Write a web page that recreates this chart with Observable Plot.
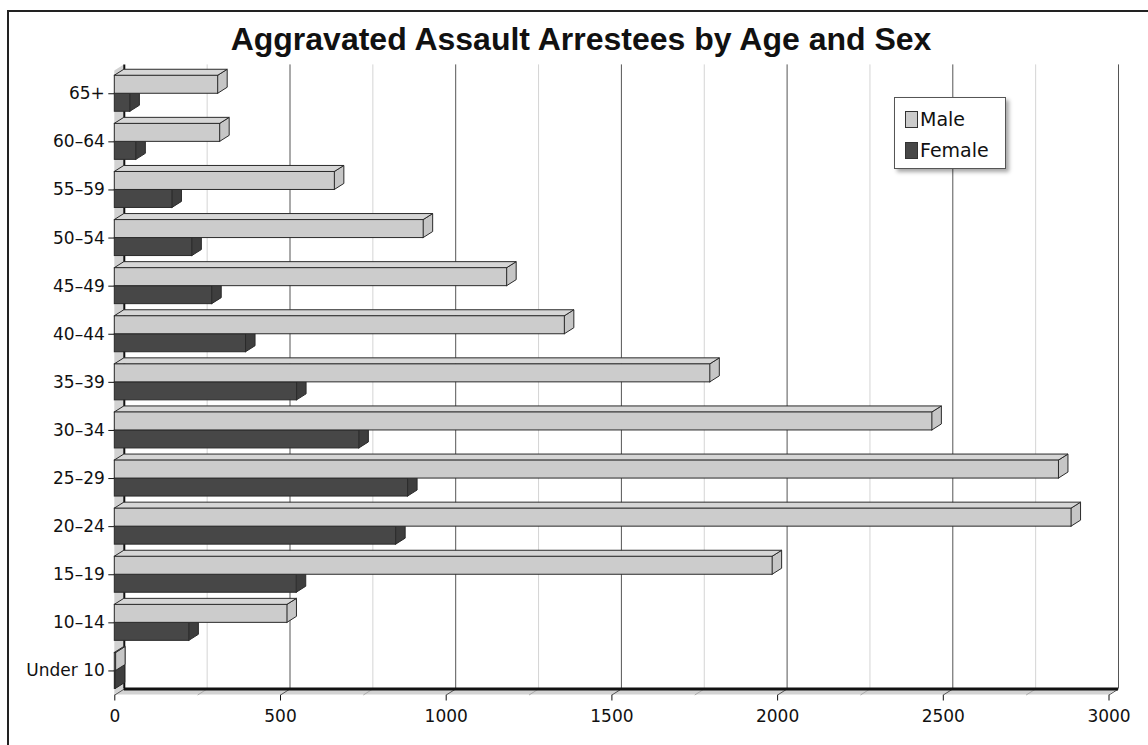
<!DOCTYPE html>
<html>
<head>
<meta charset="utf-8">
<script src="https://cdn.jsdelivr.net/npm/d3@7"></script>
<script src="https://cdn.jsdelivr.net/npm/@observablehq/plot@0.6"></script>
<style>
  html, body { margin: 0; padding: 0; background: #fff; }
  #wrap { position: relative; width: 1148px; height: 745px; overflow: hidden; background: #fff; }
  #frame { position: absolute; left: 7px; top: 10px; width: 1300px; height: 900px;
           border-left: 2.5px solid #222; border-top: 2.5px solid #222; }
  #title { position: absolute; left: 14px; width: 1134px; top: 23px; text-align: center;
           font: bold 32px/32px "Liberation Sans", Arial, Helvetica, sans-serif; color: #111; white-space: nowrap; }
  #chart { position: absolute; left: 0; top: 60px; }
  #legend { position: absolute; left: 894px; top: 97px; width: 112px; height: 72px; background: #fff;
            border: 1px solid #555; box-shadow: 3px 3px 4px rgba(0,0,0,0.35); box-sizing: border-box; }
  .sw { position: absolute; width: 13px; height: 17px; box-sizing: border-box; border: 1px solid #333; }
  .lt { position: absolute; font: 19px/19px "DejaVu Sans", sans-serif; color: #111; white-space: nowrap; }
</style>
</head>
<body>
<div id="wrap">
  <div id="frame"></div>
  <div id="title">Aggravated Assault Arrestees by Age and Sex</div>
  <div id="chart"></div>
  <div id="legend">
    <div class="sw" style="left:10px;top:13px;background:#cccccc"></div>
    <div class="lt" style="left:25px;top:12px">Male</div>
    <div class="sw" style="left:10px;top:44px;background:#474747"></div>
    <div class="lt" style="left:25px;top:43px">Female</div>
  </div>
</div>
<script>
// ---- data ----
const ages = ["65+", "60–64", "55–59", "50–54", "45–49", "40–44", "35–39", "30–34", "25–29", "20–24", "15–19", "10–14", "Under 10"];
const male = [312, 318, 664, 932, 1184, 1358, 1797, 2467, 2849, 2887, 1985, 521, 4];
const female = [47, 65, 174, 234, 294, 396, 550, 738, 885, 849, 549, 225, 3];
const xTicks = [0, 500, 1000, 1500, 2000, 2500, 3000];
const minorTicks = [250, 750, 1250, 1750, 2250, 2750];
const xDomain = [0, 3000];

// ---- layout ----
const W = 1148, H = 685, mL = 114.3, mR = 39.5, mT = 4.4, mB = 50.5;
const yTop = -0.6, yBottom = 12.5;
const barH = 0.374, depthY = 0.125, depthPx = 9.5;
const pxPerUnit = (W - mL - mR) / (xDomain[1] - xDomain[0]);
const depthX = depthPx / pxPerUnit;
const yFloor = yBottom - depthY;

const bars = ages.flatMap((a, i) => [
  {age: a, sex: "Male", v: male[i], top: i - barH, bot: i},
  {age: a, sex: "Female", v: female[i], top: i, bot: i + barH}
]);
const fem = bars.filter(b => b.sex === "Female");
const mal = bars.filter(b => b.sex === "Male");
const sideRows = bs => bs.flatMap(b => [
  {k: b.age, x: b.v, y1: b.bot, y2: b.top},
  {k: b.age, x: b.v + depthX, y1: b.bot - depthY, y2: b.top - depthY}
]);
const topRows = bs => bs.flatMap(b => [
  {k: b.age, y: b.top, x1: 0, x2: b.v},
  {k: b.age, y: b.top - depthY, x1: depthX, x2: b.v + depthX}
]);
const floorRows = [
  {y: yBottom, x1: xDomain[0], x2: xDomain[1]},
  {y: yFloor, x1: xDomain[0] + depthX, x2: xDomain[1] + depthX}
];
const wallRows = [
  {x: xDomain[0], y1: yBottom, y2: yTop + depthY},
  {x: xDomain[0] + depthX, y1: yFloor, y2: yTop}
];
const allTicks = [...xTicks, ...minorTicks];

const stroke = "#2a2a2a";
function barMarks(bs, front, topC, sideC) {
  return [
    Plot.areaY(sideRows(bs), {x: "x", y1: "y1", y2: "y2", z: "k", fill: sideC, stroke, strokeWidth: 1}),
    Plot.areaX(topRows(bs), {y: "y", x1: "x1", x2: "x2", z: "k", fill: topC, stroke, strokeWidth: 1}),
    Plot.rect(bs, {x1: 0, x2: "v", y1: "top", y2: "bot", fill: front, stroke, strokeWidth: 1})
  ];
}

const chart = Plot.plot({
  width: W, height: H,
  marginLeft: mL, marginRight: mR, marginTop: mT, marginBottom: mB,
  style: {fontFamily: "'DejaVu Sans', sans-serif", fontSize: "17px", background: "transparent", overflow: "visible", color: "#111"},
  x: {domain: xDomain, ticks: xTicks, tickFormat: d => String(d), tickSize: 6, tickPadding: 9, label: null},
  y: {domain: [yTop, yBottom], reverse: true, ticks: d3.range(ages.length), tickFormat: i => ages[i],
      tickSize: 6, tickPadding: 4, label: null},
  marks: [
    Plot.areaY(wallRows, {x: "x", y1: "y1", y2: "y2", fill: "#d2d2d2"}),
    Plot.ruleX(minorTicks, {x: d => d, y1: yTop, y2: yFloor, dx: depthPx, stroke: "#d4d4d4", strokeWidth: 1}),
    Plot.ruleX(xTicks.filter(d => d > 0), {x: d => d, y1: yTop, y2: yFloor, dx: depthPx, stroke: "#555", strokeWidth: 1}),
    Plot.areaX(floorRows, {y: "y", x1: "x1", x2: "x2", fill: "#d2d2d2"}),
    Plot.link(allTicks, {x1: d => d, x2: d => d + depthX, y1: yBottom, y2: yFloor,
      stroke: d => xTicks.includes(d) ? "#555" : "#aaa", strokeWidth: 1}),
    Plot.ruleX([0], {x: d => d, y1: yTop, y2: yFloor, dx: depthPx, stroke: "#111", strokeWidth: 2}),
    Plot.ruleY([yFloor], {y: d => d, x1: xDomain[0], x2: xDomain[1], dx: depthPx, stroke: "#111", strokeWidth: 3}),
    ...barMarks(fem, "#474747", "#565656", "#3e3e3e"),
    ...barMarks(mal, "#cccccc", "#d6d6d6", "#c6c6c6")
  ]
});
document.getElementById("chart").append(chart);
</script>
</body>
</html>
